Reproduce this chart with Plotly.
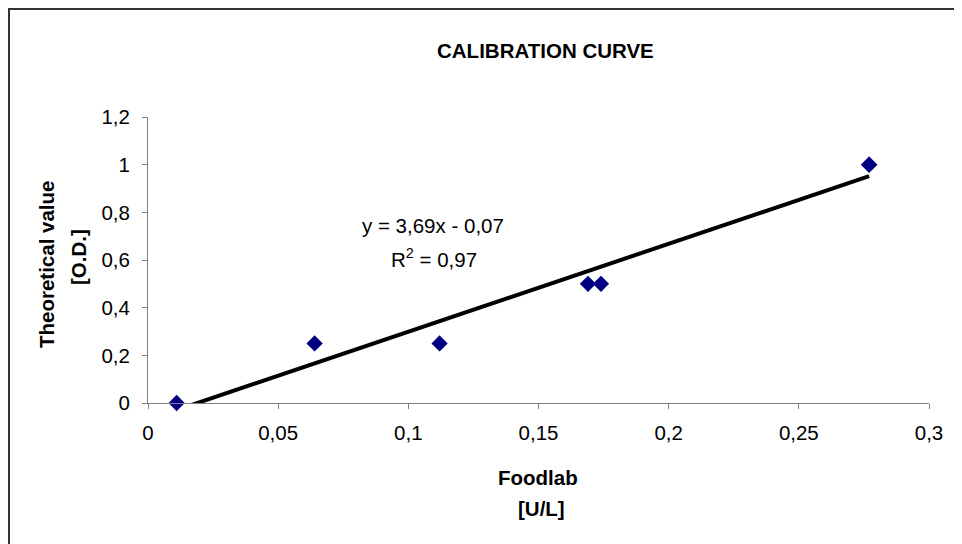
import plotly.graph_objects as go

# ---- data ----
foodlab_ul = [0.011, 0.064, 0.112, 0.169, 0.174, 0.277, 0.277]
theoretical_od = [0.0, 0.25, 0.25, 0.5, 0.5, 1.0, 1.0]
slope = 3.69
intercept = -0.07
r_squared = 0.97
x_ticks = [0, 0.05, 0.1, 0.15, 0.2, 0.25, 0.3]
y_ticks = [0, 0.2, 0.4, 0.6, 0.8, 1.0, 1.2]

# ---- layout geometry (screen pixels; page body margin offsets the figure) ----
W, H = 962, 544
OFF = 8
L, R, T, B = 148 - OFF, 929 - OFF, 117 - OFF, 403 - OFF


def px_x(p):
    return (p - OFF - L) / (R - L)


def px_y(p):
    return (B - (p - OFF)) / (B - T)


x_min, x_max = min(foodlab_ul), max(foodlab_ul)
trend_x = [x_min, x_max]
trend_y = [slope * v + intercept for v in trend_x]

fig = go.Figure()
fig.add_trace(go.Scatter(
    x=trend_x, y=trend_y, mode="lines",
    line=dict(color="black", width=4), hoverinfo="skip", showlegend=False,
))
fig.add_trace(go.Scatter(
    x=foodlab_ul, y=theoretical_od, mode="markers",
    marker=dict(symbol="diamond", size=12.5, color="#000080"),
    showlegend=False, cliponaxis=False,
))

font = "Liberation Sans, Arial, sans-serif"
axis_common = dict(
    showgrid=False, zeroline=False, showline=True, linecolor="#808080", linewidth=1,
    ticks="outside", ticklen=5, tickcolor="#808080",
    tickfont=dict(family=font, size=20.5, color="black"),
)

fig.update_layout(
    width=W, height=H,
    margin=dict(l=L, r=W - R, t=T, b=H - B, pad=0),
    paper_bgcolor="white", plot_bgcolor="white",
    separators=", ",
    xaxis=dict(range=[0, 0.3], tickvals=x_ticks, ticklabelstandoff=6, **axis_common),
    yaxis=dict(range=[0, 1.2], tickvals=y_ticks, ticklabelstandoff=8, **axis_common),
    showlegend=False,
)

ann = []


def add_text(text, x, y, size=20.5, bold=False, angle=0):
    ann.append(dict(
        text=f"<b>{text}</b>" if bold else text,
        x=px_x(x), y=px_y(y), xref="paper", yref="paper",
        xanchor="center", yanchor="middle", showarrow=False, textangle=angle,
        font=dict(family=font, size=size, color="black"),
    ))


add_text("CALIBRATION CURVE", 545, 50, size=20.5, bold=True)
add_text("Foodlab", 538, 477, bold=True)
add_text("[U/L]", 541, 508, bold=True)
add_text("Theoretical value", 46, 265, bold=True, angle=-90)
add_text("[O.D.]", 78, 257, bold=True, angle=-90)
add_text(f"y = {slope:.2f}x - {abs(intercept):.2f}".replace(".", ","), 433, 225)
add_text(f"R<sup>2</sup> = {r_squared:.2f}".replace(".", ","), 434, 258)
fig.update_layout(annotations=ann)

# chart-area frame along the figure's left and top edges
fig.add_shape(type="line", xref="paper", yref="paper",
              x0=px_x(9), x1=px_x(9), y0=px_y(9), y1=px_y(600),
              line=dict(color="#333333", width=2))
fig.add_shape(type="line", xref="paper", yref="paper",
              x0=px_x(8), x1=px_x(1000), y0=px_y(9), y1=px_y(9),
              line=dict(color="#333333", width=2))

fig.write_html("out.html")
